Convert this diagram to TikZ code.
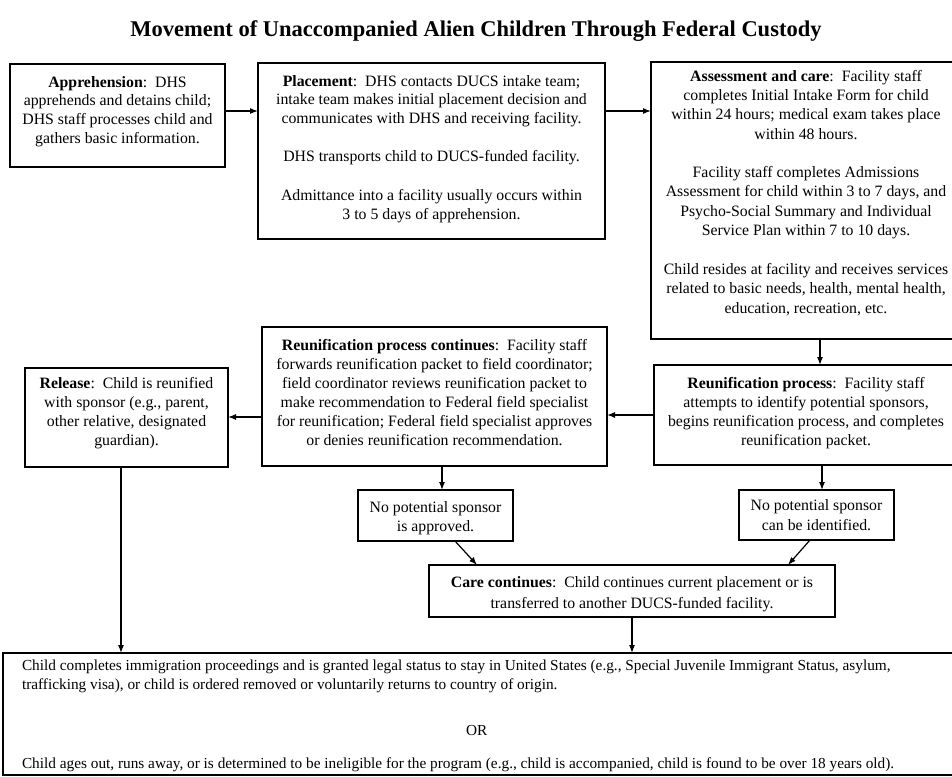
\documentclass[tikz,border=0pt]{standalone}
\usepackage{fontspec}
\setmainfont{Liberation Serif}
\usetikzlibrary{arrows.meta}
\newcommand{\bxt}[4]{\begin{minipage}[c][#2pt][t]{#1pt}\centering\vspace*{#3pt}\strut #4\end{minipage}}
\begin{document}
\begin{tikzpicture}[x=1pt,y=-1pt,
  box/.style={draw, line width=1.3pt, inner sep=0pt, outer sep=0pt, anchor=north west, font=\fontsize{15.8}{18.8}\selectfont},
  arr/.style={line width=1.2pt, -{Latex[length=8pt,width=6pt]}}]
\useasboundingbox (0,0) rectangle (952,776);
\clip (0,0) rectangle (952,776);
\fill[white] (0,0) rectangle (952,776);

\node[font=\fontsize{22.5}{26}\selectfont\bfseries, anchor=base] (title) at (476,37) {Movement of Unaccompanied Alien Children Through Federal Custody};

\node[box] (appr) at (10,64) {\bxt{215}{103}{10}{\textbf{Apprehension}:\ \ DHS\\ apprehends and detains child;\\ DHS staff processes child and\\ gathers basic information.}};

\node[box] (place) at (258,63) {\bxt{347}{176}{10}{\textbf{Placement}:\ \ DHS contacts DUCS intake team;\\ intake team makes initial placement decision and\\ communicates with DHS and receiving facility.\\[19pt] DHS transports child to DUCS-funded facility.\\[20pt] Admittance into a facility usually occurs within\\ 3 to 5 days of apprehension.}};

\node[box, font=\fontsize{15.8}{19.4}\selectfont] (assess) at (651,62) {\bxt{310}{277}{5.5}{\textbf{Assessment and care}:\ \ Facility staff\\ completes Initial Intake Form for child\\ within 24 hours; medical exam takes place\\ within 48 hours.\\[18.6pt] Facility staff completes Admissions\\ Assessment for child within 3 to 7 days, and\\ Psycho-Social Summary and Individual\\ Service Plan within 7 to 10 days.\\[19.4pt] Child resides at facility and receives services\\ related to basic needs, health, mental health,\\ education, recreation, etc.}};

\node[box, font=\fontsize{15.8}{19}\selectfont] (reunp) at (654,365) {\bxt{304}{100}{9.7}{\textbf{Reunification process}:\ \ Facility staff\\ attempts to identify potential sponsors,\\ begins reunification process, and completes\\ reunification packet.}};

\node[box, font=\fontsize{15.8}{19}\selectfont] (reunc) at (262,327) {\bxt{345}{139}{9.7}{\textbf{Reunification process continues}:\ \ Facility staff\\ forwards reunification packet to field coordinator;\\ field coordinator reviews reunification packet to\\ make recommendation to Federal field specialist\\ for reunification; Federal field specialist approves\\ or denies reunification recommendation.}};

\node[box, font=\fontsize{15.8}{19}\selectfont] (release) at (25,368) {\bxt{203}{99}{6.7}{\textbf{Release}:\ \ Child is reunified\\ with sponsor (e.g., parent,\\ other relative, designated\\ guardian).}};

\node[box, font=\fontsize{15.8}{19.5}\selectfont] (approved) at (358,490) {\bxt{155}{51}{8.5}{No potential sponsor\\ is approved.}};

\node[box, font=\fontsize{15.8}{19.5}\selectfont] (identified) at (739,490) {\bxt{155}{50}{7}{No potential sponsor\\ can be identified.}};

\node[box, font=\fontsize{15.8}{21}\selectfont] (care) at (429,565) {\bxt{406}{52}{7.5}{\textbf{Care continues}:\ \ Child continues current placement or is\\ transferred to another DUCS-funded facility.}};

\node[box, font=\fontsize{15.3}{18.5}\selectfont] (final) at (3,653) {\begin{minipage}[c][122pt][t]{957pt}\raggedright\leftskip=19pt\vspace*{5pt}\strut\mbox{Child completes immigration proceedings and is granted legal status to stay in United States (e.g., Special Juvenile Immigrant Status, asylum,}\\ trafficking visa), or child is ordered removed or voluntarily returns to country of origin.\\[28pt]\hspace*{444pt}OR\\[14pt]\mbox{Child ages out, runs away, or is determined to be ineligible for the program (e.g., child is accompanied, child is found to be over 18 years old).}\end{minipage}};

\coordinate (y111) at (0,111);
\coordinate (y417) at (0,417);
\coordinate (x820) at (820,0);
\coordinate (x822) at (822,0);
\coordinate (x442) at (442,0);
\coordinate (x121) at (121,0);

\draw[arr] (appr.east |- y111) -- (place.west |- y111);
\draw[arr] (place.east |- y111) -- (assess.west |- y111);
\draw[arr] (assess.south -| x820) -- (reunp.north -| x820);
\draw[arr] (reunp.west) -- (reunp.west -| reunc.east);
\draw[arr] (reunc.west |- y417) -- (release.east |- y417);
\draw[arr] (reunc.south -| x442) -- (approved.north -| x442);
\draw[arr] (reunp.south -| x822) -- (identified.north -| x822);
\draw[arr] ([xshift=19.5pt]approved.south) -- ([xshift=-155pt]care.north);
\draw[arr] ([xshift=-6.5pt]identified.south) -- ([xshift=156pt]care.north);
\draw[arr] (care.south) -- (care.south |- final.north);
\draw[arr] (release.south -| x121) -- (final.north -| x121);
\end{tikzpicture}
\end{document}
